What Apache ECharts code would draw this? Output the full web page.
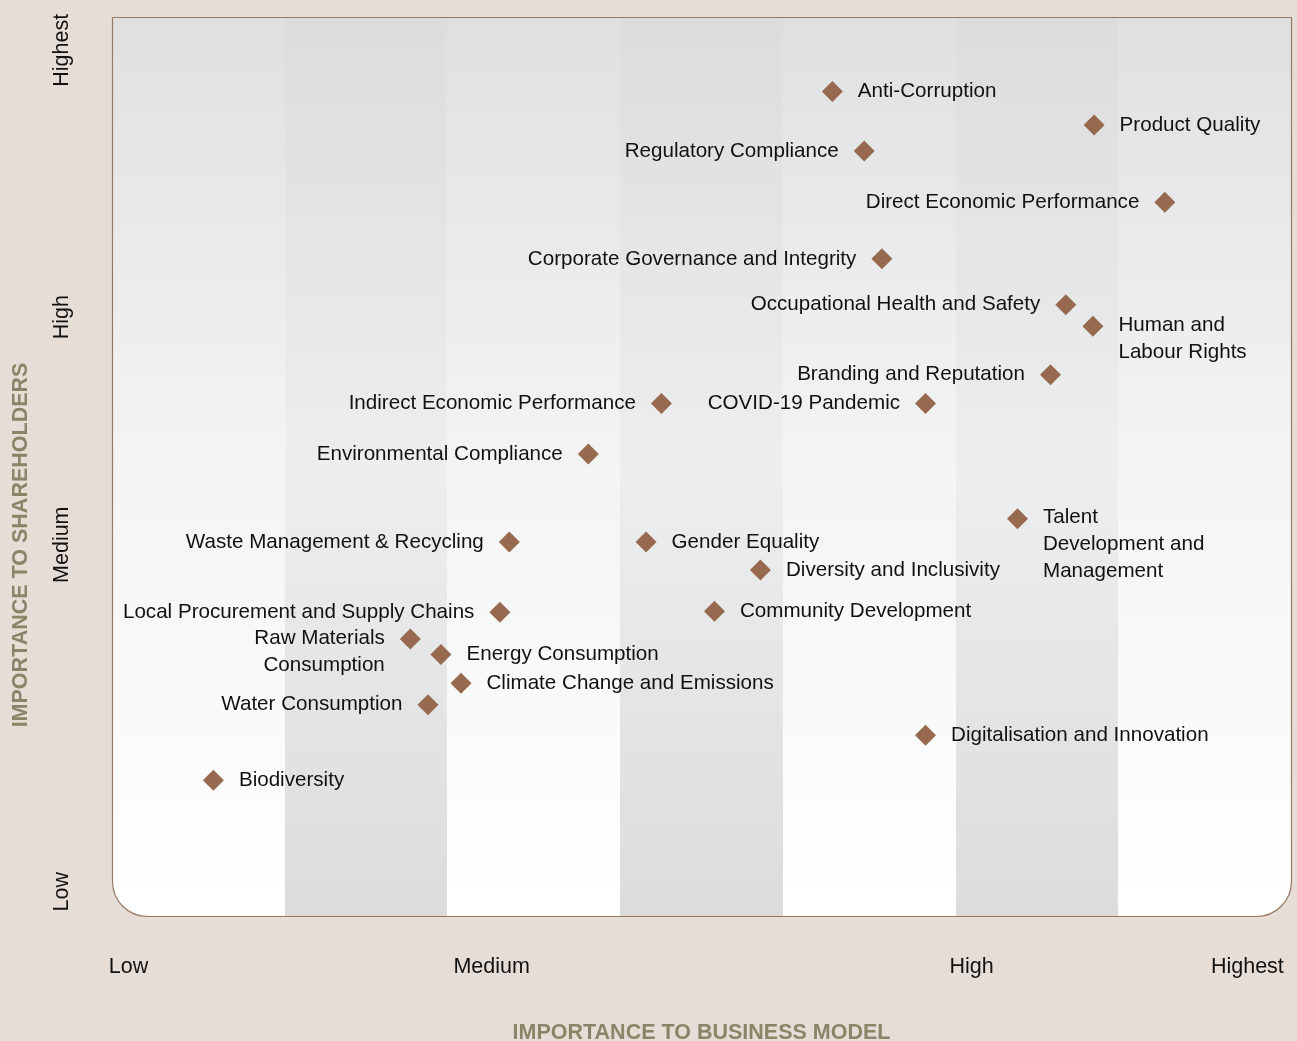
<!DOCTYPE html>
<html>
<head>
<meta charset="utf-8">
<script src="https://cdn.jsdelivr.net/npm/echarts@6/dist/echarts.min.js"></script>
<style>
  html, body { margin: 0; padding: 0; background: #e7ddd7; }
  #materiality-chart { width: 1297px; height: 1041px; }
</style>
</head>
<body>
<div id="materiality-chart"></div>
<script>
// material topics (0 = lowest, 100 = highest)
var topics = [
  'Anti-Corruption', 'Product Quality', 'Regulatory Compliance', 'Direct Economic Performance',
  'Corporate Governance and Integrity', 'Occupational Health and Safety', 'Human and\nLabour Rights',
  'Branding and Reputation', 'COVID-19 Pandemic', 'Indirect Economic Performance',
  'Environmental Compliance', 'Talent\nDevelopment and\nManagement', 'Waste Management & Recycling',
  'Gender Equality', 'Diversity and Inclusivity', 'Local Procurement and Supply Chains',
  'Community Development', 'Raw Materials\nConsumption', 'Energy Consumption',
  'Climate Change and Emissions', 'Water Consumption', 'Digitalisation and Innovation', 'Biodiversity'
];
var businessModel = [
  61.1, 83.3, 63.8, 89.3, 65.3, 80.9, 83.2, 79.6, 69.0, 46.6, 40.4, 76.8,
  33.7, 45.3, 55.0, 32.9, 51.1, 25.3, 27.9, 29.6, 26.8, 69.0, 8.6
];
var shareholders = [
  91.7, 88.0, 85.1, 79.4, 73.1, 68.0, 65.6, 60.2, 57.0, 57.0, 51.4, 44.2,
  41.6, 41.6, 38.5, 33.8, 33.9, 30.8, 29.1, 25.9, 23.5, 20.1, 15.1
];

var xTickValues = [1.4, 32.2, 72.9, 96.3];
var xTickLabels = ['Low', 'Medium', 'High', 'Highest'];
var yTickValues = [2.7, 41.3, 66.6, 96.3];
var yTickLabels = ['Low', 'Medium', 'High', 'Highest'];

// shaded columns of the matrix, in x units
var darkBands = [[14.67, 28.41], [43.09, 56.91], [71.59, 85.33]];

var FONT = '"Liberation Sans", Arial, Helvetica, sans-serif';
var leftLabelled = [
  'Regulatory Compliance', 'Direct Economic Performance', 'Corporate Governance and Integrity',
  'Occupational Health and Safety', 'Branding and Reputation', 'COVID-19 Pandemic',
  'Indirect Economic Performance', 'Environmental Compliance', 'Waste Management & Recycling',
  'Local Procurement and Supply Chains', 'Raw Materials\nConsumption', 'Water Consumption'
];

function tickName(values, labels) {
  return function (v) {
    var best = 0;
    for (var i = 1; i < values.length; i++) {
      if (Math.abs(values[i] - v) < Math.abs(values[best] - v)) best = i;
    }
    return labels[best];
  };
}

function toPoints() {
  var result = [];
  for (var i = 0; i < topics.length; i++) {
    var lines = topics[i].split('\n').length;
    result.push({
      name: topics[i],
      value: [businessModel[i], shareholders[i]],
      label: {
        position: leftLabelled.indexOf(topics[i]) >= 0 ? 'left' : 'right',
        offset: [0, (lines - 1) * 13]
      }
    });
  }
  return result;
}

var gridLeft = 112, gridTop = 17, gridWidth = 1179, gridHeight = 899;

var chart = echarts.init(document.getElementById('materiality-chart'));
chart.setOption({
  backgroundColor: '#e7ddd7',
  animation: false,
  textStyle: { fontFamily: FONT },
  grid: {
    left: gridLeft, top: gridTop, width: gridWidth, height: gridHeight,
    outerBoundsMode: 'none'
  },
  graphic: [
    {
      type: 'rect',
      z: -10,
      silent: true,
      shape: { x: gridLeft, y: gridTop, width: gridWidth, height: gridHeight, r: [0, 0, 35, 35] },
      style: {
        fill: new echarts.graphic.LinearGradient(0, 0, 0, 1, [
          { offset: 0, color: '#dfe0e2' },
          { offset: 0.5, color: '#f3f4f4' },
          { offset: 1, color: '#ffffff' }
        ])
      }
    },
    {
      type: 'rect',
      z: 100,
      silent: true,
      shape: { x: gridLeft + 0.5, y: gridTop + 0.5, width: gridWidth, height: gridHeight, r: [0, 0, 35, 35] },
      style: { fill: null, stroke: '#9a7862', lineWidth: 1.2 }
    },
    {
      type: 'text',
      silent: true,
      x: 21,
      y: 545,
      rotation: Math.PI / 2,
      style: {
        text: 'IMPORTANCE TO SHAREHOLDERS',
        fill: '#8c8468',
        font: 'bold 21.5px ' + FONT,
        align: 'center',
        verticalAlign: 'middle'
      }
    }
  ],
  xAxis: {
    type: 'value',
    min: 0,
    max: 100,
    name: 'IMPORTANCE TO BUSINESS MODEL',
    nameLocation: 'middle',
    nameGap: 106,
    nameTextStyle: { color: '#8c8468', fontWeight: 'bold', fontSize: 21.5 },
    axisLine: { show: false },
    axisTick: { show: false },
    splitLine: { show: false },
    axisLabel: {
      customValues: xTickValues,
      formatter: tickName(xTickValues, xTickLabels),
      margin: 40,
      fontSize: 21.5,
      color: '#111111'
    }
  },
  yAxis: {
    type: 'value',
    min: 0,
    max: 100,
    axisLine: { show: false },
    axisTick: { show: false },
    splitLine: { show: false },
    axisLabel: {
      customValues: yTickValues,
      formatter: tickName(yTickValues, yTickLabels),
      rotate: 90,
      margin: 39,
      fontSize: 21.5,
      color: '#111111'
    }
  },
  series: [
    {
      type: 'scatter',
      symbol: 'diamond',
      symbolSize: 21,
      itemStyle: { color: '#976a4f', opacity: 1 },
      label: {
        show: true,
        formatter: '{b}',
        distance: 15,
        fontSize: 20.6,
        lineHeight: 27,
        color: '#111111'
      },
      emphasis: { disabled: true },
      markArea: {
        silent: true,
        itemStyle: {
          opacity: 1,
          color: new echarts.graphic.LinearGradient(0, 0, 0, 1, [
            { offset: 0, color: '#dbdcde' },
            { offset: 0.5, color: '#edeeef' },
            { offset: 1, color: '#dbdcde' }
          ])
        },
        data: darkBands.map(function (b) {
          return [{ xAxis: b[0], yAxis: 0 }, { xAxis: b[1], yAxis: 100 }];
        })
      },
      data: toPoints()
    }
  ]
});
</script>
</body>
</html>
